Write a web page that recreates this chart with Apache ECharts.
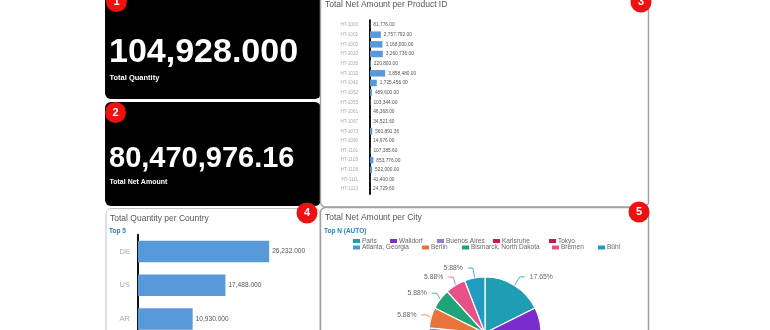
<!DOCTYPE html>
<html>
<head>
<meta charset="utf-8">
<script src="https://cdn.jsdelivr.net/npm/echarts@6/dist/echarts.min.js"></script>
<style>
html,body{margin:0;padding:0;background:#fff;overflow:hidden;}
#c{width:770px;height:460px;}
</style>
</head>
<body>
<div id="c"></div>
<script>
// ---- data ----
const totalQuantity = 104928;
const totalNetAmount = 80470976.16;

const productIds = ['HT-1000','HT-1001','HT-1003','HT-1020','HT-1030','HT-1032','HT-1042','HT-1052','HT-1055','HT-1061','HT-1067','HT-1073','HT-1090','HT-1101','HT-1103','HT-1105','HT-1111','HT-1113'];
const productNetAmounts = [81776.00,2757792.00,3168000.00,3260736.00,220800.00,3858480.00,1725456.00,489600.00,103344.00,46368.00,34521.60,560891.36,14976.00,107385.60,853776.00,522000.00,41400.00,24729.60];

const countries = ['DE','US','AR'];
const countryQuantities = [26232, 17488, 10930];

const cities = ['Paris','Walldorf','Buenos Aires','Karlsruhe','Tokyo','Atlanta, Georgia','Berlin','Bismarck, North Dakota','Bremen','Bühl'];
const cityValues = [3,3,2,2,2,1,1,1,1,1];
const cityColors = ['#1f9db3','#7a2ccc','#9a78d6','#d3134b','#c8154c','#5a8fd6','#e8743b','#1fa477','#e8508a','#1f9cbf'];

// ---- helpers ----
const fmt = (v, d) => v.toLocaleString('en-US', {minimumFractionDigits: d, maximumFractionDigits: d});
const FONT = 'Liberation Sans';

// legend item placement (layout only)
const legendPos = [[351,237],[388,237],[435,237],[491,237],[547,237],[351,243.5],[420,243.5],[460,243.5],[550,243.5],[596,243.5]];

const chart = echarts.init(document.getElementById('c'), null, {renderer:'canvas'});

function badge(x, y, n) {
  return [
    {type:'circle', shape:{cx:x, cy:y, r:10.5}, style:{fill:'#ee1111'}, z:100},
    {type:'text', x:x, y:y, style:{text:String(n), fill:'#fff', font:'bold 11px "' + FONT + '"', align:'center', verticalAlign:'middle'}, z:101}
  ];
}

const option = {
  animation:false,
  textStyle:{fontFamily:FONT},
  title:[
    {text:'Total Net Amount per Product ID', left:325, top:0, padding:0, textStyle:{fontSize:8.5, fontWeight:'normal', color:'#555', fontFamily:FONT}},
    {text:'Total Quantity per Country', left:110, top:214, padding:0, textStyle:{fontSize:8.5, fontWeight:'normal', color:'#555', fontFamily:FONT}},
    {text:'Top 5', left:109, top:227.5, padding:0, textStyle:{fontSize:6.5, fontWeight:'bold', color:'#2a7fd0', fontFamily:FONT}},
    {text:'Total Net Amount per City', left:325, top:213, padding:0, textStyle:{fontSize:8.5, fontWeight:'normal', color:'#555', fontFamily:FONT}},
    {text:'Top N (AUTO)', left:324, top:227.5, padding:0, textStyle:{fontSize:6.5, fontWeight:'bold', color:'#2a7fd0', fontFamily:FONT}}
  ],
  legend: cities.map((c,i) => ({
    data:[c], left:legendPos[i][0], top:legendPos[i][1], padding:0, itemGap:0,
    itemWidth:9, itemHeight:6, icon:'rect', selectedMode:false,
    textStyle:{fontSize:6.5, color:'#666', fontFamily:FONT, padding:[0,0,0,-4]}
  })),
  grid:[
    {left:370, top:20.2, width:200, height:173.8, containLabel:false},
    {left:138, top:234.7, width:200, height:101.1, containLabel:false}
  ],
  xAxis:[
    {gridIndex:0, type:'value', min:0, max:51000000, show:false},
    {gridIndex:1, type:'value', min:0, max:40000, show:false}
  ],
  yAxis:[
    {gridIndex:0, type:'category', data:productIds, inverse:true,
     axisLine:{show:true, lineStyle:{color:'#111', width:2}}, axisTick:{show:false},
     axisLabel:{fontSize:4.6, color:'#aaa', margin:12, fontFamily:FONT}},
    {gridIndex:1, type:'category', data:countries, inverse:true,
     axisLine:{show:true, lineStyle:{color:'#111', width:2}}, axisTick:{show:false},
     axisLabel:{fontSize:7.5, color:'#aaa', margin:8, fontFamily:FONT}}
  ],
  series:[
    {type:'bar', xAxisIndex:0, yAxisIndex:0, data:productNetAmounts, barWidth:6.5,
     itemStyle:{color:'#5899da'},
     label:{show:true, position:'right', distance:3, fontSize:4.8, color:'#555', fontFamily:FONT,
            formatter:p => fmt(p.value, 2)}},
    {type:'bar', xAxisIndex:1, yAxisIndex:1, data:countryQuantities, barWidth:21.6,
     itemStyle:{color:'#5899da'},
     label:{show:true, position:'right', distance:3, fontSize:6.6, color:'#555', fontFamily:FONT,
            formatter:p => fmt(p.value, 3)}},
    {type:'pie', center:[485,333], radius:[0,56], startAngle:90, clockwise:true,
     data:cities.map((c,i) => ({name:c, value:cityValues[i], itemStyle:{color:cityColors[i]}})),
     itemStyle:{borderColor:'#fff', borderWidth:1.2},
     label:{show:true, formatter:'{d}%', fontSize:6.8, color:'#666', fontFamily:FONT},
     labelLine:{show:true, length:10, length2:5, lineStyle:{width:0.8}}}
  ],
  graphic:[
    {type:'rect', shape:{x:105, y:-10, width:216, height:109, r:6}, style:{fill:'#000'}, z:0},
    {type:'rect', shape:{x:105, y:102, width:216, height:104, r:6}, style:{fill:'#000'}, z:0},
    {type:'rect', shape:{x:320.5, y:-10, width:328, height:217, r:5}, style:{fill:'none', stroke:'#a5a5a5', lineWidth:1.5}, z:0},
    {type:'rect', shape:{x:106, y:208.5, width:214, height:140, r:5}, style:{fill:'none', stroke:'#c0c0c0', lineWidth:1}, z:0},
    {type:'rect', shape:{x:320.5, y:207.5, width:328, height:140, r:5}, style:{fill:'none', stroke:'#a0a0a0', lineWidth:1.5}, z:0},
    {type:'text', x:109, y:53, style:{text:fmt(totalQuantity,3), fill:'#fff', font:'bold 34px "' + FONT + '"', verticalAlign:'middle'}, z:10},
    {type:'text', x:109.5, y:78, style:{text:'Total Quantity', fill:'#fff', font:'bold 7.5px "' + FONT + '"', verticalAlign:'middle'}, z:10},
    {type:'text', x:109, y:159, style:{text:fmt(totalNetAmount,2), fill:'#fff', font:'bold 29px "' + FONT + '"', verticalAlign:'middle'}, z:10},
    {type:'text', x:109.5, y:182, style:{text:'Total Net Amount', fill:'#fff', font:'bold 7px "' + FONT + '"', verticalAlign:'middle'}, z:10}
  ].concat(badge(116.5,1.5,1), badge(115.5,112.5,2), badge(641,2,3), badge(307,213,4), badge(639,212,5))
};
chart.setOption(option);
</script>
</body>
</html>
